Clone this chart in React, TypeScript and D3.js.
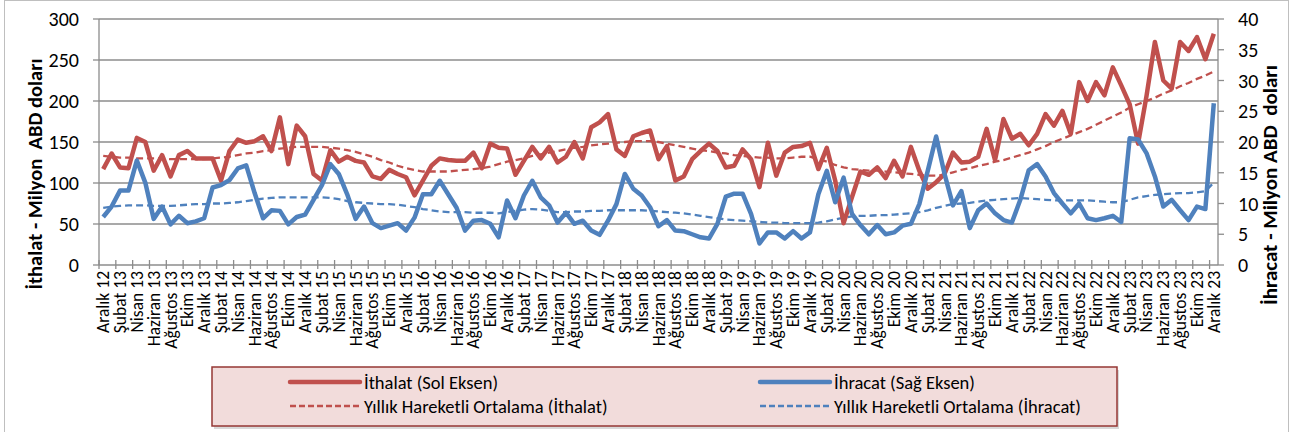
import React from "react";
import * as d3 from "d3";

const monthNames = ["Ocak", "Şubat", "Mart", "Nisan", "Mayıs", "Haziran", "Temmuz", "Ağustos", "Eylül", "Ekim", "Kasım", "Aralık"];

// Aralık 12 .. Aralık 23, monthly
const categories = d3.range(133).map((i) => {
  const m = (11 + i) % 12;
  const yr = 12 + Math.floor((11 + i) / 12);
  return `${monthNames[m]} ${yr}`;
});

// İthalat, million USD (left axis)
const imports = [
  117, 136, 119, 118, 155, 150, 115, 134, 108, 134, 139, 130, 130, 130, 103, 139, 153, 149, 151, 157,
  139, 180, 123, 170, 157, 111, 103, 140, 126, 132, 127, 125, 108, 105, 116, 111, 107, 85, 103, 121,
  130, 128, 127, 127, 137, 118, 148, 143, 142, 110, 127, 144, 130, 144, 125, 132, 150, 130, 168, 174,
  184, 141, 133, 157, 161, 164, 129, 145, 103, 108, 129, 139, 148, 139, 119, 121, 141, 129, 95, 149,
  109, 137, 144, 145, 149, 117, 143, 103, 51, 83, 114, 110, 119, 106, 127, 108, 144, 115, 93, 101,
  111, 137, 125, 126, 132, 166, 128, 178, 154, 160, 146, 160, 184, 170, 188, 160, 223, 200, 223, 207,
  241, 219, 196, 148, 206, 272, 225, 215, 272, 261, 278, 251, 282,
];

// İhracat, million USD (right axis)
const exports = [
  7.8, 9.5, 12.1, 12.1, 17.0, 13.4, 7.5, 9.5, 6.6, 8.0, 6.8, 7.1, 7.6, 12.6, 13.0, 13.8, 15.7, 16.2, 11.7, 7.6,
  8.9, 8.8, 6.6, 7.8, 8.2, 10.6, 13.0, 16.4, 14.8, 11.5, 7.5, 9.5, 6.8, 6.0, 6.4, 6.8, 5.6, 7.7, 11.5, 11.5,
  13.7, 11.5, 9.3, 5.6, 7.2, 7.3, 6.7, 4.5, 10.5, 7.6, 11.3, 13.7, 11.0, 9.7, 6.9, 8.5, 6.7, 7.2, 5.6, 4.9,
  7.2, 9.9, 14.8, 12.4, 11.3, 9.4, 6.3, 7.3, 5.6, 5.5, 5.0, 4.5, 4.3, 6.7, 11.1, 11.6, 11.6, 8.3, 3.5, 5.3,
  5.3, 4.3, 5.5, 4.3, 5.3, 11.5, 15.3, 10.2, 14.2, 8.3, 6.5, 5.0, 6.5, 5.0, 5.3, 6.4, 6.7, 9.9, 15.3, 20.9,
  14.8, 9.7, 12.0, 6.0, 8.9, 10.0, 8.4, 7.3, 6.9, 10.6, 15.4, 16.4, 14.4, 11.7, 10.0, 8.4, 10.0, 7.6, 7.3, 7.6,
  8.0, 7.0, 20.6, 20.4, 18.2, 14.4, 9.5, 10.6, 8.9, 7.3, 9.5, 9.1, 26.3,
];

// Yıllık hareketli ortalama (İthalat)
const importsAvg = [
  133, 132, 131, 131, 130, 130, 130, 130, 129, 129, 129, 129, 129, 130, 131, 132, 134, 136, 137, 139,
  140, 142, 143, 144, 144, 144, 144, 143, 142, 140, 138, 135, 132, 128, 125, 121, 118, 116, 114, 114,
  114, 114, 115, 116, 117, 118, 120, 123, 126, 128, 130, 133, 135, 137, 139, 141, 143, 144, 146, 147,
  148, 149, 150, 151, 151, 151, 150, 148, 146, 144, 142, 140, 139, 137, 136, 134, 133, 132, 131, 131,
  130, 130, 131, 132, 132, 129, 126, 122, 119, 117, 116, 115, 115, 114, 113, 112, 111, 110, 109, 109,
  110, 113, 116, 118, 121, 123, 126, 128, 131, 134, 137, 141, 145, 150, 154, 158, 162, 166, 171, 176,
  181, 186, 192, 196, 200, 204, 209, 213, 218, 222, 227, 231, 236,
];

// Yıllık hareketli ortalama (İhracat)
const exportsAvg = [
  9.3, 9.5, 9.6, 9.7, 9.7, 9.7, 9.6, 9.6, 9.6, 9.7, 9.8, 9.9, 9.9, 10.0, 10.0, 10.1, 10.2, 10.4, 10.6, 10.8,
  10.9, 11.0, 11.0, 11.0, 11.0, 11.0, 11.0, 10.9, 10.7, 10.4, 10.2, 10.1, 10.0, 9.9, 9.9, 9.8, 9.6, 9.4, 9.1, 8.9,
  8.7, 8.6, 8.6, 8.6, 8.5, 8.5, 8.5, 8.4, 8.6, 8.8, 9.0, 9.1, 9.0, 8.8, 8.6, 8.6, 8.7, 8.7, 8.8, 8.8,
  8.9, 8.9, 8.9, 8.9, 8.9, 8.8, 8.7, 8.6, 8.5, 8.4, 8.2, 8.0, 7.8, 7.6, 7.4, 7.3, 7.2, 7.1, 7.0, 6.9,
  6.9, 6.8, 6.8, 6.8, 6.8, 6.9, 7.1, 7.4, 7.7, 7.9, 8.0, 8.0, 8.1, 8.1, 8.2, 8.3, 8.4, 8.6, 8.9, 9.3,
  9.6, 9.9, 10.0, 10.1, 10.3, 10.5, 10.6, 10.7, 10.8, 10.9, 10.8, 10.7, 10.6, 10.5, 10.5, 10.5, 10.5, 10.5, 10.4, 10.3,
  10.2, 10.2, 10.6, 11.0, 11.2, 11.4, 11.5, 11.6, 11.7, 11.7, 11.8, 12.0, 13.4,
];

const leftTicks = [0, 50, 100, 150, 200, 250, 300];
const rightTicks = [0, 5, 10, 15, 20, 25, 30, 35, 40];

const legendItems = [
  { label: "İthalat (Sol Eksen)", color: "#c0504d", dashed: false },
  { label: "İhracat (Sağ Eksen)", color: "#4f81bd", dashed: false },
  { label: "Yıllık Hareketli Ortalama (İthalat)", color: "#c0504d", dashed: true },
  { label: "Yıllık Hareketli Ortalama (İhracat)", color: "#4f81bd", dashed: true },
];

const FONT = "Carlito, Calibri, Lato, 'Open Sans', sans-serif";
const RED = "#c0504d";
const BLUE = "#4f81bd";
const GRID = "#8c8c8c";

export default function App() {
  const W = 1291;
  const H = 432;
  const left = 99;
  const right = 1218;
  const top = 19;
  const bottom = 265;

  const idx = d3.range(categories.length);
  const x = d3.scaleBand<number>().domain(idx).range([left, right]);
  const bw = x.bandwidth();
  const cx = (i: number) => (x(i) as number) + bw / 2;
  const yL = d3.scaleLinear().domain([0, 300]).range([bottom, top]);
  const yR = d3.scaleLinear().domain([0, 40]).range([bottom, top]);

  const lineL = d3.line<number>().x((_, i) => cx(i)).y((d) => yL(d));
  const lineR = d3.line<number>().x((_, i) => cx(i)).y((d) => yR(d));

  // tick marks at every second category boundary
  const xTicks = d3.range(0, categories.length + 1, 2).map((k) => left + k * bw);

  return (
    <svg
      width={W}
      height={H}
      style={{ position: "absolute", left: 0, top: 0, background: "#fff" }}
      fontFamily={FONT}
    >
      <rect x={4.5} y={0.5} width={1284} height={460} fill="#fff" stroke="#bfbfbf" strokeWidth={1} />

      {/* gridlines */}
      {leftTicks.slice(1).map((t) => (
        <line key={t} x1={left} x2={right} y1={yL(t)} y2={yL(t)} stroke={GRID} strokeWidth={1.3} />
      ))}

      {/* axes */}
      <line x1={left} x2={left} y1={top} y2={bottom} stroke={GRID} strokeWidth={1.3} />
      <line x1={right} x2={right} y1={top} y2={bottom} stroke={GRID} strokeWidth={1.3} />
      <line x1={left} x2={right} y1={bottom} y2={bottom} stroke={GRID} strokeWidth={1.3} />
      {leftTicks.map((t) => (
        <g key={"l" + t}>
          <line x1={left - 6} x2={left} y1={yL(t)} y2={yL(t)} stroke={GRID} strokeWidth={1.3} />
          <text x={79} y={yL(t)} textAnchor="end" dominantBaseline="central" fontSize={20} fill="#000">
            {t}
          </text>
        </g>
      ))}
      {rightTicks.map((t) => (
        <g key={"r" + t}>
          <line x1={right} x2={right + 6} y1={yR(t)} y2={yR(t)} stroke={GRID} strokeWidth={1.3} />
          <text x={1238} y={yR(t)} textAnchor="start" dominantBaseline="central" fontSize={20} fill="#000">
            {t}
          </text>
        </g>
      ))}
      {xTicks.map((tx, k) => (
        <line key={"x" + k} x1={tx} x2={tx} y1={bottom - 5} y2={bottom + 4} stroke={GRID} strokeWidth={1.3} />
      ))}
      {idx
        .filter((i) => i % 2 === 0)
        .map((i) => (
          <text
            key={"c" + i}
            transform={`translate(${cx(i)},${bottom + 6}) rotate(-90)`}
            textAnchor="end"
            dominantBaseline="central"
            fontSize={17.5}
            fill="#000"
          >
            {categories[i]}
          </text>
        ))}

      {/* axis titles */}
      <text
        transform={`translate(35,174) rotate(-90)`}
        textAnchor="middle"
        dominantBaseline="central"
        fontSize={20.5}
        fontWeight="bold"
        fill="#000"
        style={{ whiteSpace: "pre" }}
      >
        {"İthalat - Milyon  ABD doları"}
      </text>
      <text
        transform={`translate(1270,185) rotate(-90)`}
        textAnchor="middle"
        dominantBaseline="central"
        fontSize={21}
        fontWeight="bold"
        fill="#000"
        style={{ whiteSpace: "pre" }}
      >
        {"İhracat - Milyon ABD  doları"}
      </text>

      {/* series */}
      <path d={lineL(importsAvg) ?? ""} fill="none" stroke={RED} strokeWidth={2.3} strokeDasharray="7 4" />
      <path d={lineR(exportsAvg) ?? ""} fill="none" stroke={BLUE} strokeWidth={2.3} strokeDasharray="7 4" />
      <path d={lineL(imports) ?? ""} fill="none" stroke={RED} strokeWidth={4.5} strokeLinejoin="round" />
      <path d={lineR(exports) ?? ""} fill="none" stroke={BLUE} strokeWidth={4.5} strokeLinejoin="round" />

      {/* legend */}
      <rect x={214} y={370} width={905} height={59} fill="#bfbfbf" opacity={0.6} />
      <rect x={212} y={367} width={905} height={59} fill="#f2dcdb" stroke="#953735" strokeWidth={1.5} />
      {legendItems.map((item, k) => {
        const col = k % 2;
        const row = Math.floor(k / 2);
        const lx = col === 0 ? 290 : 760;
        const ly = row === 0 ? 382 : 406;
        return (
          <g key={item.label}>
            <line
              x1={lx}
              x2={lx + 70}
              y1={ly}
              y2={ly}
              stroke={item.color}
              strokeWidth={item.dashed ? 2.3 : 4.5}
              strokeDasharray={item.dashed ? "6 3" : undefined}
              strokeLinecap={item.dashed ? "butt" : "round"}
            />
            <text x={lx + 74} y={ly} dominantBaseline="central" fontSize={18.5} fill="#000">
              {item.label}
            </text>
          </g>
        );
      })}
    </svg>
  );
}
